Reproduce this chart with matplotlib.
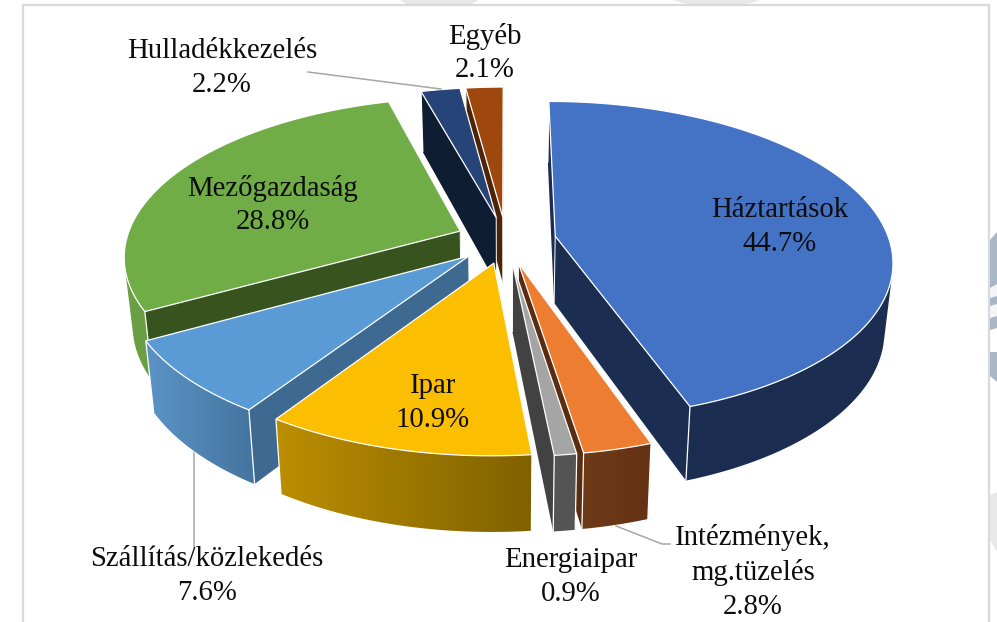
import numpy as np
import matplotlib
matplotlib.use("Agg")
import matplotlib.pyplot as plt
from matplotlib.patches import Polygon
from matplotlib.colors import to_rgb

categories = ["Háztartások", "Intézmények,\nmg.tüzelés", "Energiaipar", "Ipar",
              "Szállítás/közlekedés", "Mezőgazdaság", "Hulladékkezelés", "Egyéb"]
values = [44.7, 2.8, 0.9, 10.9, 7.6, 28.8, 2.2, 2.1]
top_colors = ["#4472C4", "#ED7D31", "#A5A5A5", "#FBBE00", "#5B9BD5", "#70AD47", "#264478", "#9E480E"]
cut_colors = ["#1B2D50", "#5A2C10", "#424242", "#846500", "#3E6A91", "#37541F", "#0F1D33", "#4F2406"]
wall_left = ["#1B2D50", "#6E3A18", "#555555", "#BC8E00", "#5B94C6", "#6A9F45", "#0F1D33", "#4F2406"]
wall_right = ["#1B2D50", "#643214", "#555555", "#7F6100", "#44749F", "#6A9F45", "#0F1D33", "#4F2406"]
label_pos = [(780, 227), (753, 572), (571, 577), (433, 403), (207, 576), (273, 205), (222, 68), (485, 53)]

CX, CY, RX, RY, K, EXPL, DEPTH, SHRINK = 506, 240, 334, 156, 0.15, 0.15, 67, 0.978

fig = plt.figure(figsize=(9.97, 6.22), dpi=100, facecolor="white")
ax = fig.add_axes([0, 0, 1, 1])


def top(X, Y):
    s = 1 / (1 + K * Y)
    return CX + RX * X * s, CY - RY * Y * s


def bot(X, Y):
    s = 1 / (1 + K * Y)
    return CX + RX * X * s * SHRINK, CY - RY * Y * s * SHRINK + DEPTH * s


# faint watermark behind the frame
for pts, col in [([(400, 0), (478, 0), (470, 5), (408, 5)], "#E6E8EA"),
                 ([(672, 0), (760, 0), (745, 5), (690, 5)], "#E6E8EA"),
                 ([(990, 240), (997, 232), (997, 382), (990, 376)], "#A9B6C6"),
                 ([(990, 288), (997, 284), (997, 296), (990, 298)], "#F4F5F7"),
                 ([(990, 306), (997, 304), (997, 316), (990, 318)], "#F4F5F7"),
                 ([(990, 330), (997, 328), (997, 352), (990, 352)], "#FFFFFF"),
                 ([(990, 495), (997, 492), (997, 552), (990, 540)], "#E8E8E8")]:
    ax.fill(*zip(*pts), color=col, lw=0, zorder=0)
ax.plot([23, 23], [622, 5], color="#DADADA", lw=1.6, zorder=1)
ax.plot([23, 989], [5, 5], color="#DADADA", lw=1.6, zorder=1)
ax.plot([989, 989], [5, 622], color="#DADADA", lw=1.6, zorder=1)

fractions = np.array(values) / sum(values)
edges = np.concatenate([[0], np.cumsum(fractions)]) * 2 * np.pi
mids = (edges[:-1] + edges[1:]) / 2
order = np.argsort(-np.cos(mids))

z = 2
for i in order:
    t0, t1 = edges[i], edges[i + 1]
    ox, oy = EXPL * np.sin(mids[i]), EXPL * np.cos(mids[i])
    th = np.linspace(t0, t1, max(16, int((t1 - t0) * 120)))
    X = ox + np.sin(th)
    Y = oy + np.cos(th)

    # radial cut faces
    for t in (t0, t1):
        xe, ye = ox + np.sin(t), oy + np.cos(t)
        P = [top(ox, oy), top(xe, ye), bot(xe, ye), bot(ox, oy)]
        ax.fill(*zip(*P), facecolor=cut_colors[i], edgecolor="none", zorder=z)

    # outer wall: only the part that faces the viewer, shaded along the screen
    tx, ty = top(X, Y)
    bx, by = bot(X, Y)
    area = ((tx[:-1] * ty[1:] - tx[1:] * ty[:-1]) + (tx[1:] * by[1:] - bx[1:] * ty[1:])
            + (bx[1:] * by[:-1] - bx[:-1] * by[1:]) + (bx[:-1] * ty[:-1] - tx[:-1] * by[:-1]))
    front = np.where(area < 0)[0]
    if len(front):
        a, b = front[0], front[-1] + 2
        fx, fy, gx, gy = tx[a:b], ty[a:b], bx[a:b], by[a:b]
        lo, hi = min(fx.min(), gx.min()), max(fx.max(), gx.max())
        cl, cr = np.array(to_rgb(wall_left[i])), np.array(to_rgb(wall_right[i]))
        grad = np.linspace(0, 1, 128)[None, :, None] * (cr - cl) + cl
        wall_xy = np.column_stack([np.r_[fx, gx[::-1]], np.r_[fy, gy[::-1]]])
        im = ax.imshow(grad, extent=(lo, hi, max(gy.max(), fy.max()), min(gy.min(), fy.min())),
                       aspect="auto", zorder=z, interpolation="bilinear")
        clip = Polygon(wall_xy, closed=True, transform=ax.transData, facecolor="none", edgecolor="none")
        ax.add_patch(clip)
        im.set_clip_path(clip)

    # white corner lines
    for j in (0, -1):
        ax.plot([tx[j], bx[j]], [ty[j], by[j]], color="white", lw=0.9, zorder=z, solid_capstyle="butt")
    ax_, ay_ = top(ox, oy)
    bx_, by_ = bot(ox, oy)
    ax.plot([ax_, bx_], [ay_, by_], color="white", lw=0.7, zorder=z)

    # top surface
    ax.fill(np.r_[ax_, tx], np.r_[ay_, ty], facecolor=top_colors[i], edgecolor="white",
            lw=0.9, joinstyle="miter", zorder=z)
    z += 1

# leader lines
for xs, ys in [([308, 441], [72, 89]), ([194, 194], [453, 547]), ([616, 662, 670], [526, 544, 544])]:
    ax.plot(xs, ys, color="#A6A6A6", lw=1.1, zorder=30)

for name, val, (x, y) in zip(categories, values, label_pos):
    ax.text(x, y, f"{name}\n{val:.1f}%", ha="center", va="center", family="Liberation Serif",
            fontsize=20.7, color="#0D0D0D", linespacing=1.38, zorder=40)

ax.set_xlim(0, 997)
ax.set_ylim(622, 0)
ax.axis("off")
fig.savefig("out.png", dpi=100, facecolor="white")
